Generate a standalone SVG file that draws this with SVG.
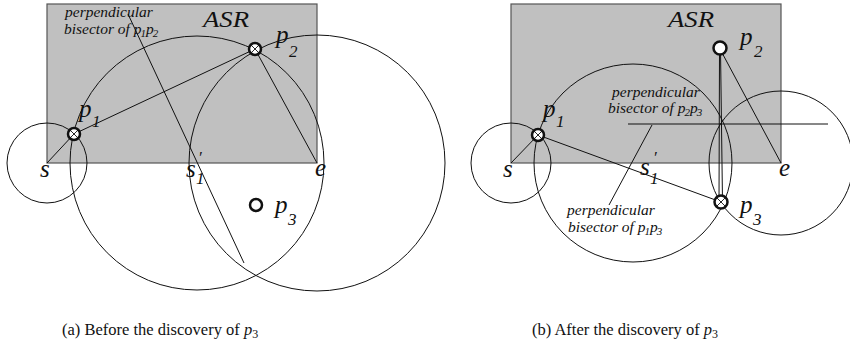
<svg xmlns="http://www.w3.org/2000/svg" width="850" height="354" viewBox="0 0 850 354">
<style>
.asr{fill:#c0c0c0;stroke:#555;stroke-width:1.2}
.c{fill:none;stroke:#111;stroke-width:1}
.l{stroke:#111;stroke-width:1;fill:none}
.m{fill:#fff;stroke:#111;stroke-width:2.5}
.x{stroke:#111;stroke-width:0.9}
.t{font-family:"Liberation Serif","Times New Roman",serif;font-style:italic;fill:#111}
.big{font-size:25px}
.sub{font-size:17px}
.lab{font-size:15.5px}
.ls{font-size:11px}
.asrt{font-size:24px}
.cap{font-family:"Liberation Serif","Times New Roman",serif;font-size:16.5px;fill:#111}
</style>
<!-- Panel (a) -->
<g id="asr-a"><rect class="asr" x="47" y="4" width="270" height="159"/><text class="t asrt" x="203" y="27" textLength="46" lengthAdjust="spacingAndGlyphs">ASR</text></g>
<g id="connectors-a">
<circle class="c" cx="47" cy="163" r="40"/>
<circle class="c" cx="197" cy="163" r="127"/>
<circle class="c" cx="317" cy="163" r="128"/>
<line class="l" x1="47" y1="163" x2="74" y2="134"/>
<line class="l" x1="74" y1="134" x2="255" y2="49"/>
<line class="l" x1="255" y1="49" x2="317" y2="163"/>
<line class="l" x1="128" y1="14" x2="244" y2="263"/>
</g>
<g id="s-a"><text class="t big" x="40" y="177">s</text></g>
<g id="e-a"><text class="t big" x="315" y="176">e</text></g>
<g id="s1-a"><text class="t big" x="186" y="177">s</text><text class="t sub" x="198" y="163">′</text><text class="t sub" x="196" y="184">1</text></g>
<g id="p1-a"><circle class="m" cx="74" cy="134" r="6"/><line class="x" x1="70" y1="130" x2="78" y2="138"/><line class="x" x1="70" y1="138" x2="78" y2="130"/><text class="t big" x="79" y="117">p</text><text class="t sub" x="92" y="127">1</text></g>
<g id="p2-a"><circle class="m" cx="255" cy="49" r="6"/><line class="x" x1="251" y1="45" x2="259" y2="53"/><line class="x" x1="251" y1="53" x2="259" y2="45"/><text class="t big" x="276" y="43">p</text><text class="t sub" x="289" y="57">2</text></g>
<g id="p3-a"><circle class="m" cx="256" cy="205" r="6"/><text class="t big" x="275" y="213">p</text><text class="t sub" x="288" y="225">3</text></g>
<g id="bis12-a"><text class="t lab" x="65" y="17">perpendicular</text><text class="t lab" x="64" y="34">bisector of p<tspan class="ls" dx="-1" dy="3">1</tspan><tspan dy="-3" dx="0">p</tspan><tspan class="ls" dx="-1" dy="3">2</tspan></text></g>
<!-- Panel (b) -->
<g id="asr-b"><rect class="asr" x="511" y="4" width="270" height="159"/><text class="t asrt" x="668" y="27" textLength="46" lengthAdjust="spacingAndGlyphs">ASR</text></g>
<g id="connectors-b">
<circle class="c" cx="511" cy="163" r="40"/>
<circle class="c" cx="633" cy="163" r="99"/>
<circle class="c" cx="781" cy="163" r="72"/>
<line class="l" x1="511" y1="163" x2="538" y2="135"/>
<line class="l" x1="538" y1="135" x2="721" y2="202"/>
<line class="l" x1="719.5" y1="49" x2="719" y2="202"/>
<line class="l" x1="720.5" y1="49" x2="722.5" y2="202"/>
<line class="l" x1="720" y1="49" x2="781" y2="163"/>
<line class="l" x1="628" y1="124" x2="828" y2="124"/>
<line class="l" x1="652" y1="125" x2="609" y2="205"/>
</g>
<g id="s-b"><text class="t big" x="503" y="177">s</text></g>
<g id="e-b"><text class="t big" x="779" y="176">e</text></g>
<g id="s1-b"><text class="t big" x="640" y="175">s</text><text class="t sub" x="653" y="163">′</text><text class="t sub" x="650" y="184">1</text></g>
<g id="p1-b"><circle class="m" cx="538" cy="135" r="6"/><line class="x" x1="534" y1="131" x2="542" y2="139"/><line class="x" x1="534" y1="139" x2="542" y2="131"/><text class="t big" x="543" y="117">p</text><text class="t sub" x="556" y="127">1</text></g>
<g id="p2-b"><circle class="m" cx="720" cy="48" r="6.5"/><text class="t big" x="740" y="45">p</text><text class="t sub" x="754" y="57">2</text></g>
<g id="p3-b"><circle class="m" cx="721" cy="202" r="6.5"/><line class="x" x1="717" y1="198" x2="725" y2="206"/><line class="x" x1="717" y1="206" x2="725" y2="198"/><text class="t big" x="740" y="213">p</text><text class="t sub" x="753" y="225">3</text></g>
<g id="bis23-b"><text class="t lab" x="612" y="97" font-size="15">perpendicular</text><text class="t lab" x="608" y="113" font-size="15">bisector of p<tspan class="ls" dx="-1" dy="3">2</tspan><tspan dy="-3">p</tspan><tspan class="ls" dx="-1" dy="3">3</tspan></text></g>
<g id="bis13-b"><text class="t lab" x="567" y="215">perpendicular</text><text class="t lab" x="568" y="232">bisector of p<tspan class="ls" dx="-1" dy="3">1</tspan><tspan dy="-3">p</tspan><tspan class="ls" dx="-1" dy="3">3</tspan></text></g>
<!-- Captions -->
<g id="caption-a"><text class="cap" x="62" y="335">(a) Before the discovery of <tspan font-style="italic">p</tspan><tspan font-size="12" dy="3">3</tspan></text></g>
<g id="caption-b"><text class="cap" x="532" y="335">(b) After the discovery of <tspan font-style="italic">p</tspan><tspan font-size="12" dy="3">3</tspan></text></g>
</svg>
